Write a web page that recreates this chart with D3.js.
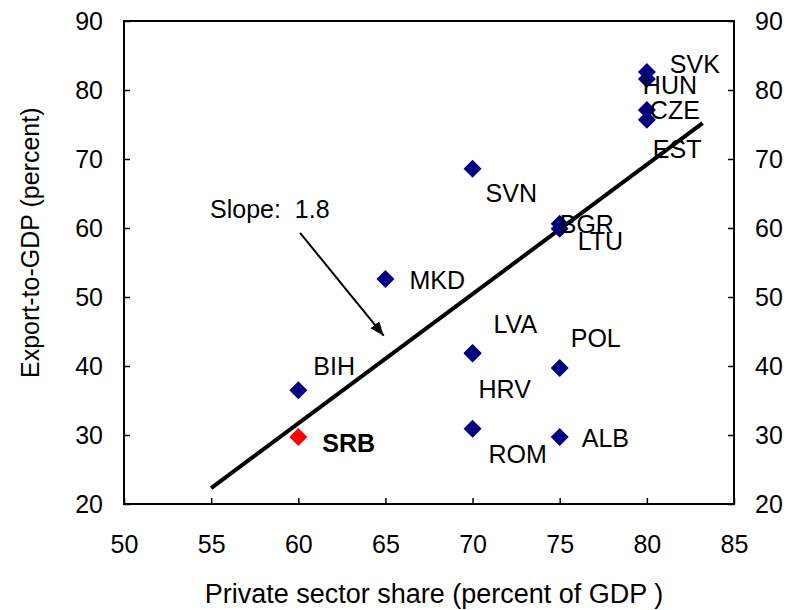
<!DOCTYPE html>
<html>
<head>
<meta charset="utf-8">
<script src="https://cdn.jsdelivr.net/npm/d3@7"></script>
<style>
  body { margin: 0; background: #fff; }
  svg { display: block; font-family: Arial, "Liberation Sans", sans-serif; }
</style>
</head>
<body>
<svg width="794" height="610"></svg>
<script>
// data
const countries = ['SVK', 'HUN', 'CZE', 'EST', 'SVN', 'BGR', 'LTU', 'MKD', 'LVA', 'HRV', 'POL', 'BIH', 'SRB', 'ROM', 'ALB'];
const privateShare = [80, 80, 80, 80, 70, 75, 75, 65, 70, 70, 75, 60, 60, 70, 75];
const exportGdp = [82.6, 81.6, 77.1, 75.7, 68.6, 60.6, 59.9, 52.6, 41.9, 41.8, 39.7, 36.5, 29.7, 30.9, 29.7];
const xTicks = [50, 55, 60, 65, 70, 75, 80, 85];
const yTicks = [20, 30, 40, 50, 60, 70, 80, 90];
const trendLine = [[55, 22.3], [83.2, 75.2]];
const slopeArrow = [[60.1, 59.3], [64.9, 44.4]];
const slopeText = 'Slope:  1.8';

// label offsets (pixels from the marker)
const labelOffset = {
    SVK: [23, 1], HUN: [-4, 15], CZE: [3, 9], EST: [6, 38],
    SVN: [13, 33], BGR: [0, 9], LTU: [18, 21], MKD: [24, 10],
    LVA: [21, -20], HRV: [6, 44], POL: [11, -21], BIH: [15, -15],
    SRB: [24, 15], ROM: [16, 34], ALB: [22, 10]
};

var svg = d3.select('svg');
var margin = { top: 21, right: 60, bottom: 106, left: 124 };
var width = 734 - margin.left;
var height = 504 - margin.top;

var g = svg.append('g')
    .attr('transform', 'translate(' + margin.left + ',' + margin.top + ')');

var xScale = d3.scaleLinear().domain([50, 85]).range([0, width]);
var yScale = d3.scaleLinear().domain([20, 90]).range([height, 0]);

// axes, ticks pointing inward
var fontSize = 25;

var xAxis = g.append('g')
    .attr('transform', 'translate(0,' + height + ')')
    .call(d3.axisBottom(xScale).tickValues(xTicks).tickSize(-6).tickPadding(31));

var yAxisLeft = g.append('g')
    .call(d3.axisLeft(yScale).tickValues(yTicks).tickSize(-6).tickPadding(21));

var yAxisRight = g.append('g')
    .attr('transform', 'translate(' + width + ',0)')
    .call(d3.axisRight(yScale).tickValues(yTicks).tickSize(-6).tickPadding(21));

[xAxis, yAxisLeft, yAxisRight].forEach(function(a) {
    a.select('.domain').remove();
    a.selectAll('line').attr('stroke', '#000').attr('stroke-width', 1.5);
    a.selectAll('text')
        .attr('fill', '#000')
        .style('font-size', fontSize + 'px');
});

// frame
g.append('rect')
    .attr('x', 0)
    .attr('y', 0)
    .attr('width', width)
    .attr('height', height)
    .attr('fill', 'none')
    .attr('stroke', '#000')
    .attr('stroke-width', 2);

// regression line
g.append('path')
    .datum(trendLine)
    .attr('fill', 'none')
    .attr('stroke', '#000')
    .attr('stroke-width', 4)
    .attr('d', d3.line()
        .x(function(d) { return xScale(d[0]); })
        .y(function(d) { return yScale(d[1]); }));

// arrow to the line
svg.append('defs').append('marker')
    .attr('id', 'arrow')
    .attr('viewBox', '0 0 10 10')
    .attr('refX', 10)
    .attr('refY', 5)
    .attr('markerWidth', 7)
    .attr('markerHeight', 7)
    .attr('markerUnits', 'strokeWidth')
    .attr('orient', 'auto')
    .append('path')
    .attr('d', 'M0,1 L10,5 L0,9 Z')
    .attr('fill', '#000');

g.append('line')
    .attr('x1', xScale(slopeArrow[0][0]))
    .attr('y1', yScale(slopeArrow[0][1]))
    .attr('x2', xScale(slopeArrow[1][0]))
    .attr('y2', yScale(slopeArrow[1][1]))
    .attr('stroke', '#000')
    .attr('stroke-width', 2)
    .attr('marker-end', 'url(#arrow)');

g.append('text')
    .attr('x', xScale(slopeArrow[0][0]) - 90)
    .attr('y', yScale(slopeArrow[0][1]) - 15)
    .attr('xml:space', 'preserve')
    .style('white-space', 'pre')
    .style('font-size', fontSize + 'px')
    .text(slopeText);

// points
var points = countries.map(function(c, i) {
    return { name: c, x: privateShare[i], y: exportGdp[i] };
});

g.selectAll('.pt')
    .data(points)
    .enter()
    .append('path')
    .attr('class', 'pt')
    .attr('transform', function(d) { return 'translate(' + xScale(d.x) + ',' + yScale(d.y) + ')'; })
    .attr('d', 'M0,-9 L9,0 L0,9 L-9,0 Z')
    .attr('fill', function(d) { return d.name === 'SRB' ? '#ff0000' : '#000080'; });

g.selectAll('.lbl')
    .data(points)
    .enter()
    .append('text')
    .attr('class', 'lbl')
    .attr('x', function(d) { return xScale(d.x) + labelOffset[d.name][0]; })
    .attr('y', function(d) { return yScale(d.y) + labelOffset[d.name][1]; })
    .style('font-size', fontSize + 'px')
    .style('font-weight', function(d) { return d.name === 'SRB' ? 'bold' : 'normal'; })
    .text(function(d) { return d.name; });

// axis titles
svg.append('text')
    .attr('x', 434)
    .attr('y', 603)
    .attr('text-anchor', 'middle')
    .style('font-size', '27px')
    .text('Private sector share (percent of GDP )');

svg.append('text')
    .attr('transform', 'translate(39,378) rotate(-90)')
    .attr('text-anchor', 'start')
    .style('font-size', '25px')
    .text('Export-to-GDP (percent)');
</script>
</body>
</html>
